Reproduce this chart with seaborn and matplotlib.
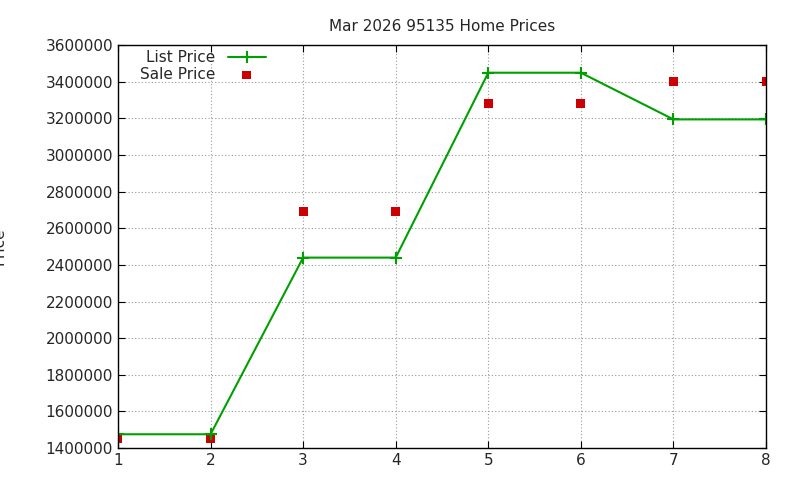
import matplotlib
matplotlib.use("Agg")
import matplotlib.pyplot as plt
import seaborn as sns
import pandas as pd

x = [1, 2, 3, 4, 5, 6, 7, 8]
list_price = [1475000, 1475000, 2440000, 2440000, 3450000, 3450000, 3195000, 3195000]
sale_price = [1450000, 1450000, 2690000, 2690000, 3283000, 3283000, 3400000, 3400000]
yticks = list(range(1400000, 3600001, 200000))

sns.set_style("ticks")
plt.rcParams['font.family'] = ['DejaVu Sans']
fig = plt.figure(figsize=(8, 4.8), dpi=100)
ax = fig.add_axes([0.1475, 0.0667, 0.81, 0.839])
df = pd.DataFrame({"x": x, "list": list_price, "sale": sale_price})
sns.lineplot(data=df, x="x", y="list", ax=ax, color="#00a000", marker="+", markersize=9,
             markeredgewidth=1.5, markeredgecolor="#00a000", linewidth=1.5, label="List Price")
sns.scatterplot(data=df, x="x", y="sale", ax=ax, color="#cc0000", marker="s", s=40,
                edgecolor="none", label="Sale Price")
ax.set_xlim(1, 8)
ax.set_ylim(1400000, 3600000)
ax.set_xticks(x)
ax.set_yticks(yticks)
ax.set_yticklabels([str(v) for v in yticks])
ax.grid(True, linestyle=(0, (1, 2)), color="#999999", linewidth=0.8)
ax.tick_params(direction="in", top=True, right=True, labelsize=11, length=5, color="black")
for s in ax.spines.values():
    s.set_color("black"); s.set_linewidth(1)
ax.set_xlabel("")
ax.set_ylabel("Price", fontsize=11, labelpad=28)
ax.set_title("Mar 2026 95135 Home Prices", fontsize=11, pad=10)
ax.legend(loc="upper left", bbox_to_anchor=(0.02, 1.01), frameon=False, markerfirst=False,
          fontsize=11, handlelength=2.5, borderaxespad=0.2, labelspacing=0.1)
fig.savefig("out.png", dpi=100)
